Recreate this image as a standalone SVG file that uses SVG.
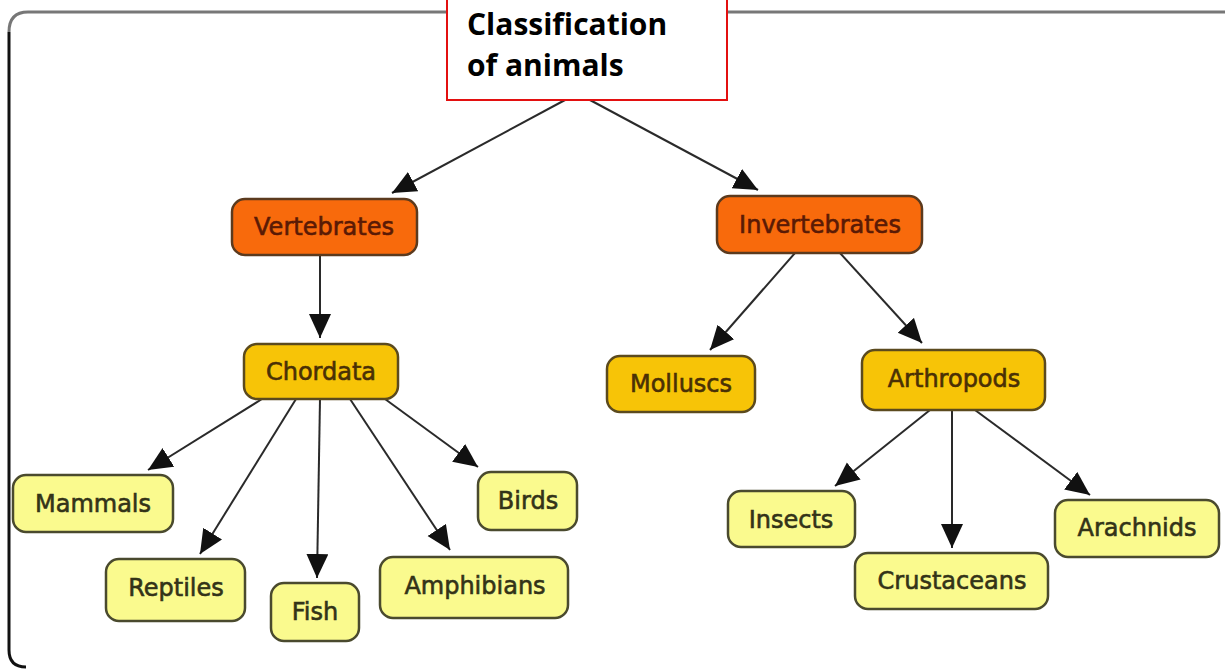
<svg xmlns="http://www.w3.org/2000/svg" width="1225" height="669" viewBox="0 0 1225 669">
<defs>
<marker id="ah" markerUnits="userSpaceOnUse" markerWidth="26" markerHeight="24" refX="24" refY="11" orient="auto">
<path d="M0,0 L24,11 L0,22 z" fill="#111"/>
</marker>
<style>
.ln{stroke:#2a2a2a;stroke-width:2;fill:none;marker-end:url(#ah)}
.l1 rect{fill:#f86a0c;stroke:#5b3a1e;stroke-width:2.5}
.l2 rect{fill:#f7c407;stroke:#5b4a1e;stroke-width:2.5}
.l3 rect{fill:#fafa8e;stroke:#4a4a2e;stroke-width:2.5}
.nt{font-family:"DejaVu Sans",sans-serif;font-size:24px;text-anchor:middle;stroke-width:0.6}
.l1 text{fill:#5a1a05;stroke:#5a1a05}
.l2 text{fill:#4a3005;stroke:#4a3005}
.l3 text{fill:#333318;stroke:#333318}
.tt{font-family:"Open Sans","Liberation Sans",sans-serif;font-weight:bold;font-size:30px;fill:#000}
</style>
</defs>
<rect width="1225" height="669" fill="#ffffff"/>
<g id="frame">
<path d="M1240,12 L28,12 Q9,12 9,32" fill="none" stroke="#777" stroke-width="3"/>
<path d="M9,32 L9,650 Q9,667 26,667" fill="none" stroke="#111" stroke-width="3"/>
</g>
<g id="connectors">
<line class="ln" x1="565" y1="100" x2="392" y2="193"/>
<line class="ln" x1="590" y1="100" x2="758" y2="190"/>
<line class="ln" x1="320" y1="255" x2="320" y2="338"/>
<line class="ln" x1="795" y1="253" x2="710" y2="350"/>
<line class="ln" x1="840" y1="253" x2="922" y2="343"/>
<line class="ln" x1="262" y1="399" x2="148" y2="470"/>
<line class="ln" x1="296" y1="399" x2="200" y2="554"/>
<line class="ln" x1="320" y1="399" x2="317" y2="578"/>
<line class="ln" x1="350" y1="399" x2="450" y2="550"/>
<line class="ln" x1="385" y1="399" x2="478" y2="467"/>
<line class="ln" x1="930" y1="410" x2="835" y2="486"/>
<line class="ln" x1="952" y1="410" x2="952" y2="548"/>
<line class="ln" x1="975" y1="410" x2="1090" y2="495"/>
</g>
<g id="title">
<rect x="447" y="-2" width="280" height="102" fill="#ffffff" stroke="#e31010" stroke-width="2"/>
<text class="tt" x="467" y="35">Classification</text>
<text class="tt" x="467" y="76">of animals</text>
</g>
<g id="vertebrates" class="l1"><rect x="232" y="199" width="185" height="56" rx="13"/><text class="nt" x="324" y="235">Vertebrates</text></g>
<g id="invertebrates" class="l1"><rect x="717" y="196" width="205" height="57" rx="13"/><text class="nt" x="820" y="233">Invertebrates</text></g>
<g id="chordata" class="l2"><rect x="244" y="344" width="154" height="55" rx="13"/><text class="nt" x="321" y="380">Chordata</text></g>
<g id="molluscs" class="l2"><rect x="607" y="356" width="148" height="56" rx="13"/><text class="nt" x="681" y="392">Molluscs</text></g>
<g id="arthropods" class="l2"><rect x="862" y="350" width="183" height="60" rx="13"/><text class="nt" x="954" y="387">Arthropods</text></g>
<g id="mammals" class="l3"><rect x="13" y="475" width="160" height="57" rx="13"/><text class="nt" x="93" y="512">Mammals</text></g>
<g id="reptiles" class="l3"><rect x="106" y="559" width="139" height="62" rx="13"/><text class="nt" x="176" y="596">Reptiles</text></g>
<g id="fish" class="l3"><rect x="271" y="583" width="88" height="58" rx="13"/><text class="nt" x="315" y="620">Fish</text></g>
<g id="amphibians" class="l3"><rect x="380" y="557" width="188" height="61" rx="13"/><text class="nt" x="475" y="594">Amphibians</text></g>
<g id="birds" class="l3"><rect x="478" y="472" width="99" height="58" rx="13"/><text class="nt" x="528" y="509">Birds</text></g>
<g id="insects" class="l3"><rect x="728" y="491" width="127" height="56" rx="13"/><text class="nt" x="791" y="528">Insects</text></g>
<g id="crustaceans" class="l3"><rect x="855" y="553" width="193" height="56" rx="13"/><text class="nt" x="952" y="589">Crustaceans</text></g>
<g id="arachnids" class="l3"><rect x="1055" y="500" width="164" height="57" rx="13"/><text class="nt" x="1137" y="536">Arachnids</text></g>
</svg>
